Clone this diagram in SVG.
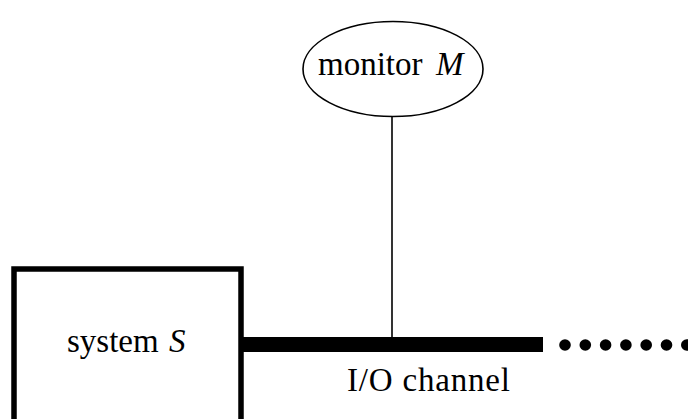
<svg xmlns="http://www.w3.org/2000/svg" width="688" height="419" viewBox="0 0 688 419">
  <style>
    .lbl { font-family: "Liberation Serif", "Times New Roman", serif; font-size: 33px; fill: #000; }
    .it { font-style: italic; }
  </style>
  <rect width="688" height="419" fill="#fff"/>

  <!-- connectors: I/O channel bus and monitor tap -->
  <g id="connectors">
    <rect id="io-channel" x="243" y="337" width="300" height="15" fill="#000"/>
    <g id="channel-continues" fill="#000">
      <circle cx="565" cy="345" r="5.8"/>
      <circle cx="585.3" cy="345" r="5.8"/>
      <circle cx="605.6" cy="345" r="5.8"/>
      <circle cx="625.9" cy="345" r="5.8"/>
      <circle cx="646.2" cy="345" r="5.8"/>
      <circle cx="666.5" cy="345" r="5.8"/>
      <circle cx="686.8" cy="345" r="5.8"/>
    </g>
    <line id="monitor-tap" x1="392" y1="116" x2="392" y2="337" stroke="#000" stroke-width="1.6"/>
    <text class="lbl" x="347" y="391" textLength="163">I/O channel</text>
  </g>

  <g id="system">
    <rect x="14" y="269" width="227" height="160" fill="#fff" stroke="#000" stroke-width="5.5"/>
    <text class="lbl" x="67" y="352">system</text>
    <text class="lbl it" x="169" y="352">S</text>
  </g>

  <g id="monitor">
    <ellipse cx="393" cy="69" rx="90" ry="47.5" fill="#fff" stroke="#000" stroke-width="1.6"/>
    <text class="lbl" x="318" y="75">monitor</text>
    <text class="lbl it" x="436" y="75">M</text>
  </g>
</svg>
